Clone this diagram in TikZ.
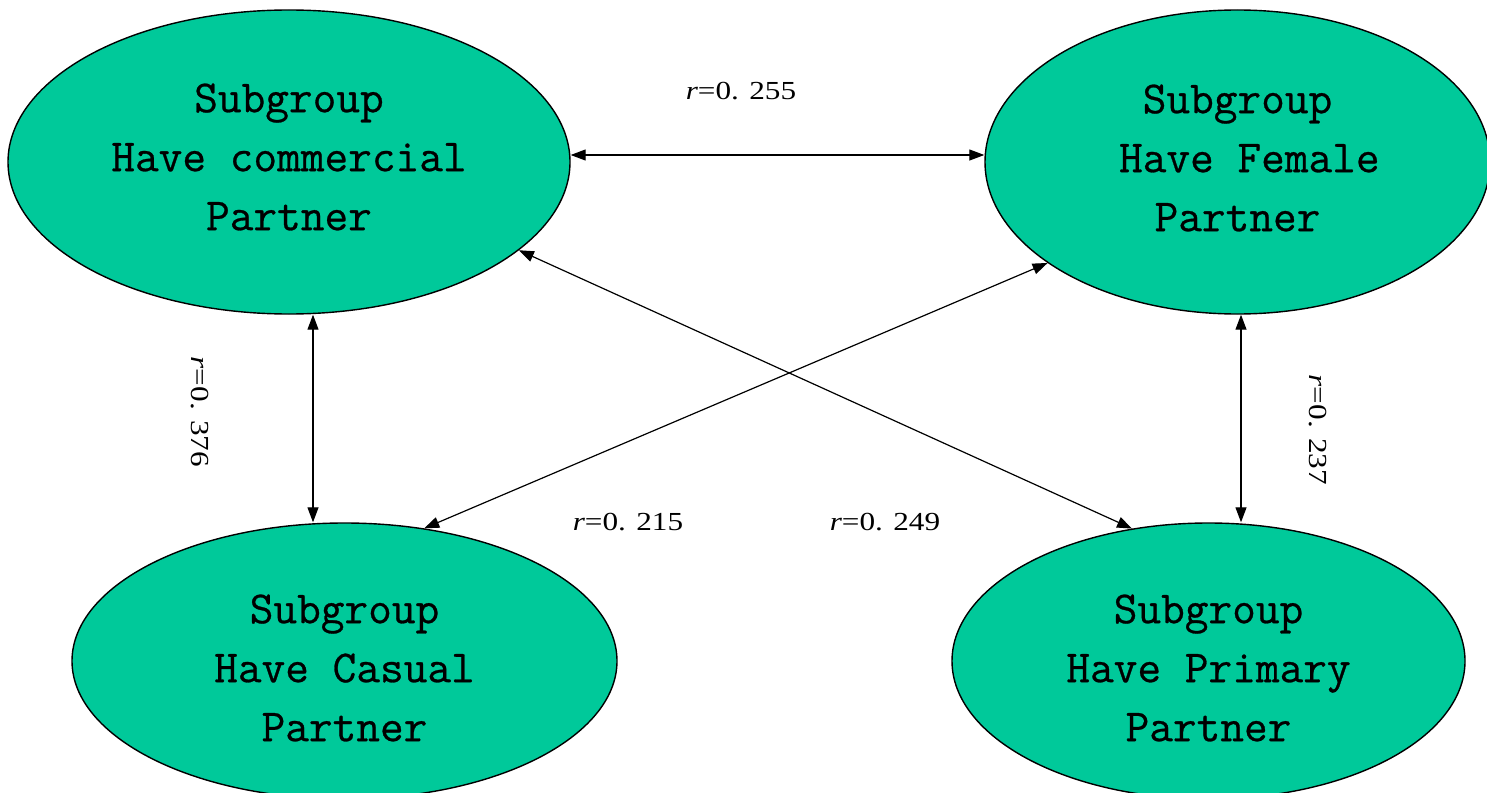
\documentclass[tikz,border=0pt]{standalone}
\usepackage{fontspec}
\newfontfamily\numfont[FakeStretch=1.2]{Liberation Serif}
\newfontfamily\boxfont[FakeBold=0.6]{Latin Modern Mono}
\usetikzlibrary{shapes.geometric, arrows.meta}
\definecolor{subgreen}{RGB}{0,201,154}

\tikzset{
  subgroup/.style={ellipse, draw=black, line width=0.7pt, fill=subgreen, inner sep=0pt},
  subtext/.style={align=center, inner sep=0pt, font=\boxfont\fontsize{23}{29.5}\selectfont},
  corr/.style={{Triangle[length=7.5pt,width=5.5pt]}-{Triangle[length=7.5pt,width=5.5pt]},
    line width=0.6pt},
  rlabel/.style={font=\numfont\fontsize{13}{15}\selectfont, inner sep=0pt},
}
\newcommand{\rval}[1]{{\itshape r}=#1}

\begin{document}
\begin{tikzpicture}[x=0.5pt, y=-0.5pt]
    \clip (0,0) rectangle (1487,792);

    % Subgroup ellipses
    \node[subgroup, minimum width=281pt, minimum height=152pt] (comm) at (289,162) {};
    \node[subgroup, minimum width=252.5pt, minimum height=152pt] (fem) at (1237.5,162) {};
    \node[subgroup, minimum width=272.5pt, minimum height=138pt] (cas) at (344.5,661) {};
    \node[subgroup, minimum width=256.5pt, minimum height=138pt] (prim) at (1208.5,661) {};

    \node[subtext] (commtext) at ([yshift=2.5pt]comm.center) {Subgroup\\Have commercial\\Partner};
    \node[subtext] (femtext) at ([yshift=2pt]fem.center) {Subgroup\\\ Have Female\\Partner};
    \node[subtext] (castext) at ([yshift=-3.5pt]cas.center) {Subgroup\\Have Casual\\Partner};
    \node[subtext] (primtext) at ([yshift=-3.5pt]prim.center) {Subgroup\\Have Primary\\Partner};

    % Correlations
    \draw[corr] ([yshift=3.5pt]comm.east) -- ([yshift=3.5pt]fem.west);
    \draw[corr] ([xshift=12pt]comm.south) -- ([xshift=-15.75pt]cas.north);
    \draw[corr] ([xshift=1.75pt]fem.south) -- ([xshift=16.25pt]prim.north);
    \draw[corr] (fem.208.9) -- (cas.59);
    \draw[corr] (comm.-21) -- (prim.120.6);

    % Labels
    \node[rlabel] (r1) at (741,91) {\rval{0. 255}};
    \node[rlabel, rotate=-90] (r2) at (200,412) {\rval{0. 376}};
    \node[rlabel, rotate=-90] (r3) at (1318,430) {\rval{0. 237}};
    \node[rlabel] (r4) at (628,522) {\rval{0. 215}};
    \node[rlabel] (r5) at (885,522) {\rval{0. 249}};
\end{tikzpicture}
\end{document}
